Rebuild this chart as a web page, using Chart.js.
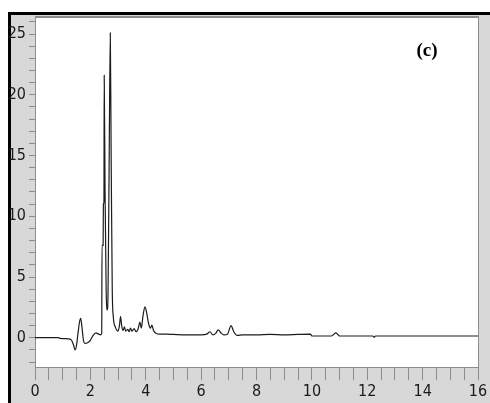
<!DOCTYPE html>
<html>
<head>
<meta charset="utf-8">
<script src="https://cdn.jsdelivr.net/npm/chart.js@4.4.0/dist/chart.umd.min.js"></script>
<style>
  html, body { margin: 0; padding: 0; background: #fff; }
  #wrap { width: 490px; height: 403px; }
</style>
</head>
<body>
<div id="wrap"><canvas id="chart_c" width="490" height="403"></canvas></div>
<script>
// retention time (min) and detector signal
var times = [0, 0.5, 0.85, 0.9, 1.2, 1.3, 1.38, 1.45, 1.5, 1.55, 1.6, 1.65, 1.7, 1.75, 1.8, 1.9, 2.0, 2.1, 2.2, 2.3, 2.38,
  2.41, 2.42, 2.46, 2.47, 2.49, 2.50, 2.53, 2.57, 2.61, 2.64, 2.68, 2.72, 2.75, 2.79, 2.83, 2.9, 3.0, 3.05, 3.09, 3.13,
  3.18, 3.23, 3.28, 3.35, 3.4, 3.45, 3.5, 3.58, 3.65, 3.72, 3.79, 3.84, 3.9, 3.97, 4.03, 4.1, 4.17, 4.22, 4.28, 4.38,
  4.5, 4.75, 5.0, 5.5, 6.0, 6.2, 6.32, 6.42, 6.52, 6.62, 6.72, 6.82, 6.95, 7.08, 7.18, 7.3, 7.5, 8.0, 8.5, 9.0, 9.5,
  9.95, 10.0, 10.7, 10.8, 10.86, 10.95, 11.0, 12.2, 12.25, 12.3, 16];
var signal = [0.02, 0.02, 0.02, -0.05, -0.08, -0.15, -0.5, -1.0, -0.6, 0.3, 1.2, 1.6, 0.8, -0.2, -0.45, -0.4, -0.2, 0.2, 0.4, 0.3, 0.25,
  0.4, 7.6, 7.6, 11.0, 11.2, 21.6, 12, 4, 2.3, 4, 15, 25.1, 15, 4, 1.7, 0.9, 0.55, 1.0, 1.75, 1.0,
  0.6, 0.9, 0.55, 0.7, 0.5, 0.8, 0.55, 0.75, 0.5, 0.7, 1.3, 0.8, 1.8, 2.55, 2.1, 1.2, 0.8, 1.05, 0.6, 0.35,
  0.3, 0.3, 0.28, 0.25, 0.25, 0.3, 0.5, 0.25, 0.35, 0.65, 0.4, 0.25, 0.3, 1.0, 0.5, 0.2, 0.25, 0.25, 0.28, 0.25, 0.28,
  0.3, 0.15, 0.15, 0.3, 0.4, 0.25, 0.15, 0.15, 0.05, 0.15, 0.15];
var panelLabel = '(c)';

var points = [];
for (var i = 0; i < times.length; i++) {
  points.push({x: times[i], y: signal[i]});
}

// grey panel, black frame, white plot area
var frame = {
  id: 'frame',
  beforeDraw: function(chart) {
    var c = chart.ctx, a = chart.chartArea;
    c.save();
    c.fillStyle = '#fff';
    c.fillRect(0, 0, chart.width, chart.height);
    c.fillStyle = '#d8d8d8';
    c.fillRect(8, 12, chart.width - 8, chart.height - 12);
    c.fillStyle = '#000';
    c.fillRect(8, 12, chart.width - 8, 3);
    c.fillRect(8, 12, 3, chart.height - 12);
    c.fillStyle = '#fff';
    c.fillRect(a.left, a.top, a.right - a.left, a.bottom - a.top);
    c.strokeStyle = '#8c8c8c';
    c.lineWidth = 2;
    c.beginPath();
    c.moveTo(a.left, a.top);
    c.lineTo(a.right + 1, a.top);
    c.stroke();
    c.lineWidth = 1;
    c.beginPath();
    c.moveTo(a.right + 0.5, a.top);
    c.lineTo(a.right + 0.5, a.bottom);
    c.stroke();
    c.restore();
  },
  afterDraw: function(chart) {
    var c = chart.ctx;
    c.save();
    c.fillStyle = '#000';
    c.font = 'bold 19px "Liberation Serif"';
    c.textAlign = 'center';
    c.textBaseline = 'middle';
    c.fillText(panelLabel, 427, 51);
    c.restore();
  }
};

var ctx = document.getElementById('chart_c').getContext('2d');
var chart = new Chart(ctx, {
  type: 'scatter',
  data: {
    datasets: [{
      data: points,
      showLine: true,
      borderColor: '#1c1c1c',
      borderWidth: 1.2,
      pointRadius: 0,
      cubicInterpolationMode: 'monotone'
    }]
  },
  options: {
    responsive: false,
    animation: false,
    layout: { padding: { top: 17, right: 12, bottom: 0, left: 0 } },
    plugins: { legend: { display: false }, tooltip: { enabled: false } },
    scales: {
      x: {
        type: 'linear', min: 0, max: 16,
        afterFit: function(s) { s.height = 36; },
        grid: { drawOnChartArea: false, tickLength: 13, color: '#8c8c8c' },
        border: { color: '#8c8c8c' },
        ticks: {
          stepSize: 0.5, autoSkip: false, maxRotation: 0, padding: 2,
          color: '#1a1a1a',
          font: { family: '"Liberation Sans Narrow", "DejaVu Sans Condensed"', size: 16 },
          callback: function(v) { return v % 2 === 0 ? String(v) : ''; }
        }
      },
      y: {
        type: 'linear', min: -2.4, max: 26.4,
        afterFit: function(s) { s.width = 35; },
        grid: { drawOnChartArea: false, tickLength: 6, color: '#8c8c8c' },
        border: { color: '#8c8c8c' },
        ticks: {
          stepSize: 1, includeBounds: false, autoSkip: false, padding: 3,
          color: '#1a1a1a',
          font: { family: '"Liberation Sans Narrow", "DejaVu Sans Condensed"', size: 16 },
          callback: function(v) { return v % 5 === 0 ? String(v) : ''; }
        }
      }
    }
  },
  plugins: [frame]
});
</script>
</body>
</html>
